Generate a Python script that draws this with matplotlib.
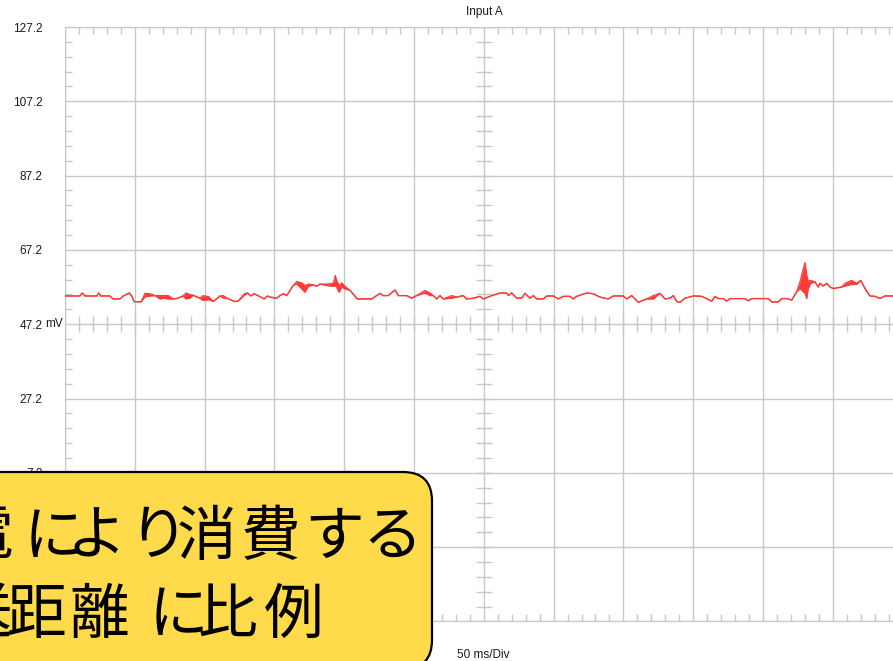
import numpy as np
import matplotlib
matplotlib.use("Agg")
import matplotlib.pyplot as plt
from matplotlib.patches import FancyBboxPatch

# scope capture: min/max envelope of Input A (time in ms, level in mV)
t_ms = [0, 10.7, 12.4, 14.3, 22.9, 24.1, 25.6, 32.2, 34.4, 39.4, 41.8, 46.1, 47.8, 49.4,
        54.4, 57.3, 60.9, 64.5, 68.0, 71.0, 74.0, 77.6, 81.0, 84.5, 86.7, 89.5, 91.7,
        96.5, 99.0, 103.0, 106.3, 111.0, 113.5, 116.0, 121.5, 124.0, 128.5, 130.8,
        133.2, 135.5, 140.3, 142.7, 145.0,
        146.8, 151.6, 154.0, 156.4, 158.8, 163.5, 166.0, 169.6, 171.9, 174.3, 177.9,
        180.3, 182.7, 187.5, 192.2, 193.6, 194.6, 196.3, 198.2, 200.6, 204.2, 209.4,
        219.7, 225.6, 228.0, 231.6, 236.4, 238.8, 244.8, 248.4, 251.9, 257.9, 261.5,
        263.8, 266.3, 268.6, 271.0, 277.0, 280.6, 285.3, 287.7, 292.5,
        297.3, 299.6, 304.4, 311.6, 316.4, 317.6, 320.0, 323.6, 327.1, 329.5, 333.1,
        335.5, 337.9, 342.6, 345.1, 349.8, 353.4, 356.9, 361.7, 364.1, 366.5, 373.7,
        378.4, 383.2, 389.2, 392.8, 399.9, 402.4, 405.9, 410.7, 416.7, 421.4, 426.2,
        429.8, 433.4, 435.8, 438.2, 440.5, 444.1, 450.1,
        456.1, 458.5, 463.3, 465.6, 468.0, 471.6, 474.0, 476.4, 487.1, 489.5, 492.0,
        503.8, 506.2, 511.0, 513.4, 517.0, 520.6, 524.1, 526.5, 528.9, 530.1, 531.3,
        532.4, 534.2, 537.2, 539.6, 540.8, 543.2, 545.6, 548.0, 550.4, 556.4, 558.7,
        563.5, 567.1, 570.0, 573.1, 576.6, 580.2, 583.8, 587.4, 593.3]
v_max = [54.8, 54.8, 55.6, 54.8, 54.8, 55.6, 54.8, 54.8, 54.0, 54.0, 54.8, 55.6, 54.8, 53.3,
         53.2, 55.5, 55.4, 54.9, 54.9, 54.9, 54.9, 54.0, 54.2, 54.8, 55.6, 55.2, 55.0,
         54.2, 54.9, 54.6, 53.3, 54.8, 54.9, 54.2, 53.3, 53.4, 55.4, 55.6,
         54.8, 55.4, 54.5, 54.0, 54.8,
         54.5, 54.2, 54.9, 55.4, 54.9, 57.6, 58.7, 58.3, 57.6, 58.0, 57.8,
         57.4, 58.0, 58.0, 58.2, 60.3, 59.0, 57.6, 58.3, 57.4, 56.3, 54.0,
         54.0, 55.5, 54.9, 54.9, 56.4, 54.9, 54.9, 54.2, 54.9, 56.3, 55.6,
         54.9, 54.0, 54.9, 54.0, 54.9, 54.5, 54.9, 54.0, 54.2,
         54.7, 54.0, 54.7, 55.6, 55.6, 54.9, 55.6, 54.2, 54.2, 55.5, 54.2,
         54.9, 54.0, 54.0, 54.8, 54.8, 54.0, 54.7, 54.7, 54.0, 54.7, 55.6,
         55.4, 54.5, 54.0, 54.8, 54.8, 54.0, 54.9, 53.1, 54.0, 54.9, 55.5,
         54.0, 54.2, 54.9, 53.3, 53.1, 54.2, 54.8,
         54.7, 54.3, 53.4, 54.7, 54.1, 54.1, 53.4, 54.1, 54.1, 53.5, 54.1,
         54.1, 53.2, 53.2, 54.1, 54.1, 53.7, 55.9, 58.6, 62.2, 63.8, 60.4,
         58.8, 59.0, 58.6, 57.2, 58.2, 57.5, 58.2, 57.2, 56.8, 57.2, 58.2,
         59.0, 58.2, 59.0, 56.8, 54.8, 54.7, 54.1, 54.8, 54.8]
v_min = [54.8, 54.8, 55.6, 54.8, 54.8, 55.6, 54.8, 54.8, 54.0, 54.0, 54.8, 55.6, 54.8, 53.3,
         53.2, 54.6, 54.8, 54.9, 54.0, 54.2, 54.0, 54.0, 54.2, 54.8, 54.0, 54.2, 55.0,
         54.2, 53.6, 53.8, 53.3, 54.8, 54.2, 54.2, 53.3, 53.4, 55.0, 55.6,
         54.8, 55.4, 54.5, 54.0, 54.8,
         54.5, 54.2, 54.9, 55.4, 54.9, 57.6, 58.1, 56.7, 55.8, 57.4, 57.8,
         57.4, 58.0, 57.6, 57.4, 57.6, 57.2, 55.8, 57.2, 56.7, 56.3, 54.0,
         54.0, 55.5, 54.9, 54.9, 56.4, 54.9, 54.9, 54.2, 54.9, 55.6, 54.9,
         54.9, 54.0, 54.9, 54.0, 54.2, 54.5, 54.9, 54.0, 54.2,
         54.7, 54.0, 54.7, 55.6, 55.6, 54.9, 55.6, 54.2, 54.2, 55.5, 54.2,
         54.9, 54.0, 54.0, 54.8, 54.8, 54.0, 54.7, 54.7, 54.0, 54.7, 55.6,
         55.4, 54.5, 54.0, 54.8, 54.8, 54.0, 54.9, 53.1, 54.0, 54.0, 55.5,
         54.0, 54.2, 54.9, 53.3, 53.1, 54.2, 54.8,
         54.7, 54.3, 53.4, 54.7, 54.1, 54.1, 53.4, 54.1, 54.1, 53.5, 54.1,
         54.1, 53.2, 53.2, 54.1, 54.1, 53.7, 55.9, 56.8, 55.9, 55.5, 54.1,
         56.8, 58.2, 58.6, 57.2, 58.2, 57.5, 58.2, 57.2, 56.8, 57.2, 57.5,
         57.9, 57.9, 59.0, 56.8, 54.8, 54.7, 54.1, 54.8, 54.8]

y_ticks = [127.2, 107.2, 87.2, 67.2, 47.2, 27.2, 7.2, -12.8, -32.8]
note_lines = ["電により消費する", "送距離に比例"]
# glyph centres (px from left) so the kana sit tighter than the kanji
note_x = [[-17, 53, 96, 158, 207, 271, 334, 392],
          [-17, 37, 99, 178, 228, 294]]
note_y = [531, 609]

grid_c = "#c8c8c8"
trace_c = "#ff3838"

fig = plt.figure(figsize=(8.93, 6.61), dpi=100)
W, H = 893, 661
left, top, div_x, div_y = 65, 27, 69.8, 74.3
ax = fig.add_axes([left / W, (H - top - 8 * div_y) / H, 12 * div_x / W, 8 * div_y / H])

ax.set_xlim(0, 600)
ax.set_ylim(-32.8, 127.2)
ax.set_xticks(np.arange(0, 601, 50))
ax.set_yticks(y_ticks)
ax.set_xticks(np.arange(0, 601, 10), minor=True)
ax.set_yticks(np.arange(-32.8, 127.3, 4), minor=True)
ax.grid(True, which="major", color=grid_c, lw=1)
ax.tick_params(which="major", length=0, labelbottom=False, pad=16,
               labelsize=8.5, labelcolor="#1a1a1a")
ax.tick_params(which="minor", direction="in", length=5, color=grid_c, width=1,
               top=True, left=True, bottom=True, right=True)
ax.set_yticklabels([f"{v:.1f}" for v in y_ticks], fontfamily="Liberation Sans")
for s in ax.spines.values():
    s.set_color(grid_c)

# centre cross ticks
xc = np.arange(0, 601, 10)
yc = np.arange(-32.8, 127.3, 4)
ax.plot(xc, np.full(len(xc), 47.2), ls="none", marker="|", ms=11.5, mew=1, color=grid_c)
ax.plot(np.full(len(yc), 300), yc, ls="none", marker="_", ms=11.5, mew=1, color=grid_c)

ax.fill_between(t_ms, v_min, v_max, color=trace_c, lw=0, zorder=3)
ax.plot(t_ms, v_max, color=trace_c, lw=0.9, zorder=4)
ax.plot(t_ms, v_min, color=trace_c, lw=0.9, zorder=4)

fig.text(45 / W, (H - 324) / H, "mV", fontsize=8.5, va="center", ha="left",
         family="Liberation Sans", color="#1a1a1a")
fig.text(484 / W, (H - 12) / H, "Input A", fontsize=8.5, va="center", ha="center",
         family="Liberation Sans", color="#1a1a1a")
fig.text(483 / W, (H - 655) / H, "50 ms/Div", fontsize=8.5, va="center", ha="center",
         family="Liberation Sans", color="#1a1a1a")

# yellow callout in the lower-left corner
box = FancyBboxPatch((-0.4, -0.08), 4.72, 1.97,
                     boxstyle="round,pad=0,rounding_size=0.29",
                     transform=fig.dpi_scale_trans, facecolor="#ffda4a",
                     edgecolor="black", lw=1.6, zorder=10)
fig.add_artist(box)
for line, xs, yc_px in zip(note_lines, note_x, note_y):
    for ch, xp in zip(line, xs):
        fig.text(xp / W, (H - yc_px) / H, ch, fontsize=43, ha="center",
                 va="center_baseline", family="Noto Sans CJK JP", zorder=11)

fig.savefig("out.png", dpi=100)
